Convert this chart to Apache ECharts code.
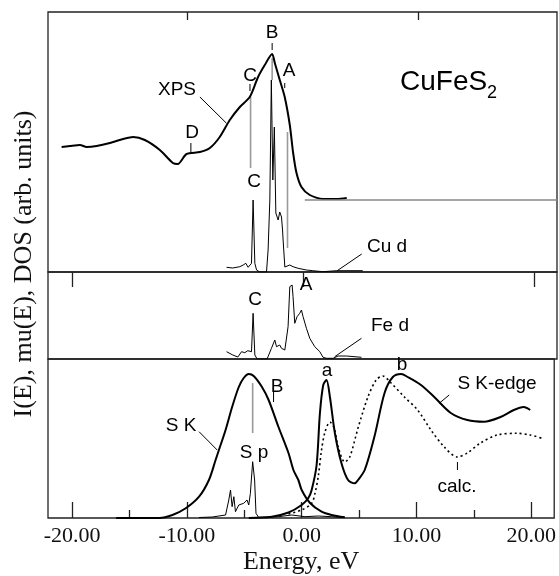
<!DOCTYPE html>
<html>
<head>
<meta charset="utf-8">
<script src="https://cdn.jsdelivr.net/npm/echarts@6/dist/echarts.min.js"></script>
<style>
  html, body { margin: 0; padding: 0; background: #fff; }
  #chart { width: 559px; height: 576px; }
</style>
</head>
<body>
<div id="chart"></div>
<script>
// energy in eV, intensity in arb. units (height above each panel's baseline)
const xps = [[-20.92,125],[-20.2,126],[-19.33,127],[-18.75,125],[-17.89,126],[-16.74,129],[-15.58,133],[-14.72,135],[-13.71,132],[-12.41,122],[-11.28,109],[-10.85,108],[-10.1,118],[-8.94,120],[-8.08,124],[-7.22,135],[-6.35,152],[-5.48,165],[-4.62,175],[-3.9,195],[-3.32,207],[-2.68,218],[-2.45,209],[-2.02,192],[-1.59,175],[-1.15,147],[-0.86,119],[-0.57,99],[-0.14,85],[0.58,77],[1.71,73],[2.92,73],[3.78,74]];
const cuD = [[-6.63,4.7],[-6.09,4],[-5.48,5.3],[-5.19,7],[-4.96,8.7],[-4.76,4.7],[-4.47,8.7],[-4.33,72],[-4.18,8.7],[-4.03,2],[-3.75,0],[-3.17,0],[-3.03,22],[-2.88,72],[-2.75,192],[-2.62,92],[-2.49,145],[-2.36,59],[-2.16,52],[-2.02,60],[-1.87,55],[-1.78,42],[-1.73,32],[-1.58,5],[-1.44,3.7],[-1.15,7],[-0.87,5.3],[-0.43,3.7],[0.29,2],[0.84,1.3],[1.71,0.3],[2.92,1.3],[5.17,1.3]];
const xpsBase = [[0.15,72],[22,72]];
const feD = [[-6.63,7.3],[-6.09,4],[-5.65,2],[-5.33,7.3],[-5.05,6.3],[-4.79,8.3],[-4.47,7.3],[-4.33,45.7],[-4.18,4],[-3.98,0],[-3.12,0],[-3.03,0.7],[-2.74,10.7],[-2.45,19],[-2.3,12.3],[-2.02,14],[-1.87,10.7],[-1.58,9],[-1.3,32.3],[-1.15,72.3],[-0.95,74],[-0.87,62.3],[-0.72,35.7],[-0.52,42.3],[-0.29,45.7],[-0.14,49],[0,42.3],[0.29,30.7],[0.58,20.7],[1.01,12.3],[1.45,7.3],[1.73,1.7],[2.03,0.7],[2.6,0.7],[3.03,3],[3.76,3],[5.06,1.7]];
const sK = [[-16.16,0],[-12.41,0],[-11.26,3],[-10.1,9.7],[-8.94,21.3],[-8.08,38],[-7.5,58],[-7.21,68],[-6.63,88],[-6.06,111],[-5.48,131],[-5.05,140],[-4.61,144],[-4.18,142],[-3.46,131],[-2.88,118],[-2.02,91],[-1.15,65],[-0.72,48],[-0.29,38],[0,28],[0.73,15],[1.73,6.3],[2.6,3],[3.76,0.7]];
const sKedge = [[-4.61,0],[-2.6,1.3],[-1.15,5.5],[0,13],[0.58,20],[0.87,28],[1.3,53],[1.59,105],[1.88,133],[2.16,138],[2.46,121],[2.89,85],[3.46,55],[4.04,38],[4.62,34.7],[4.91,38],[5.49,48],[6.35,82],[7.22,125],[7.94,141],[8.66,144],[9.24,141],[10.39,133],[11.55,121],[12.99,105],[14.43,98],[15.88,96.3],[17.32,101],[18.48,108],[19.34,111],[19.91,108]];
const calc = [[-1.15,4],[0,8],[0.87,14.7],[1.16,24.7],[1.45,42],[1.73,68],[2.03,86],[2.46,96],[2.83,90],[3.18,71],[3.76,56],[4.19,61],[4.91,90],[5.77,121],[6.49,138],[7.07,142],[7.79,135],[8.95,121],[10.1,108],[11.26,88],[12.42,71],[13.57,61],[14.43,65],[15.58,75],[17.03,83],[18.76,84.7],[19.91,83],[20.93,79.7]];
const sP = [[-8.94,0.5],[-7.79,1],[-6.63,3],[-6.35,18],[-6.2,28],[-6.06,11.3],[-5.91,21.3],[-5.77,6.3],[-5.48,13],[-5.05,14.7],[-4.76,18],[-4.61,13],[-4.47,24.7],[-4.27,56.3],[-4.1,38],[-3.98,4.7],[-3.75,0.7],[-2.02,1.3],[-0.87,3],[0.29,1.3],[1.45,2],[2.6,1.3],[3.61,0.5]];

// guide lines between spectra (gray) and label pointers (black)
const grayTop = [[[-4.55,175],[-4.55,104]],[[-1.35,140],[-1.35,24]],[[-2.68,214],[-2.68,192]]];
const grayBottom = [[[-4.27,135],[-4.27,85]]];
const pointTop = [[[-2.68,229],[-2.68,222]],[[-4.6,188],[-4.6,181]],[[-1.59,189],[-1.59,184]],[[-9.72,129],[-9.72,120]],[[-8.94,175],[-6.63,148.7]],[[2.92,1],[5.08,18]]];
const pointMid = [[[2.74,2.3],[5.06,20.7]]];
const pointBottom = [[[-2.45,126],[-2.45,116]],[[-8.94,86.3],[-7.36,68]],[[11.98,114.7],[12.85,123]],[[13.57,56],[13.57,48]]];

const majorTicksTop = [-20, 0, 20];
const minorTicksTop = [-10, 10];
const majorTicksBottom = [-20, -10, 0, 10, 20];
const minorTicksBottom = [-15, -5, 5, 15];

const chart = echarts.init(document.getElementById('chart'));
const sans = 'Liberation Sans';
const serif = 'Liberation Serif';

const grids = [
  { top: 12, height: 260 },
  { top: 272, height: 87 },
  { top: 359, height: 159 },
].map((g) => ({ ...g, left: 48, right: 2, show: true, borderColor: '#222', borderWidth: 1.3 }));

const hiddenX = (grid, pos) => ({
  type: 'value', gridIndex: grid, position: pos, min: -22.1, max: 22,
  axisLine: { show: false }, axisLabel: { show: false }, splitLine: { show: false }, axisTick: { show: false },
});

const tickAxis = (grid, pos, vals, len) => {
  const a = hiddenX(grid, pos);
  a.axisTick = { show: true, inside: true, length: len, customValues: vals, lineStyle: { color: '#222', width: 1.3 } };
  return a;
};

const bottomAxis = tickAxis(2, 'bottom', majorTicksBottom, 16);
bottomAxis.axisLabel = {
  show: true, customValues: majorTicksBottom, margin: 7,
  fontFamily: serif, fontSize: 22, color: '#111',
  formatter: (v) => v.toFixed(2),
};
bottomAxis.name = 'Energy, eV';
bottomAxis.nameLocation = 'middle';
bottomAxis.nameGap = 31;
bottomAxis.nameTextStyle = { fontFamily: serif, fontSize: 26, color: '#111' };

const xAxes = [
  tickAxis(0, 'top', majorTicksTop, 15),
  tickAxis(0, 'top', minorTicksTop, 8),
  hiddenX(1, 'bottom'),
  bottomAxis,
  tickAxis(2, 'bottom', minorTicksBottom, 8),
];

const yAxes = grids.map((g, i) => ({ type: 'value', gridIndex: i, min: 0, max: g.height, show: false }));

const curve = (xi, yi, data, width, extra) => Object.assign({
  type: 'line', xAxisIndex: xi, yAxisIndex: yi, data, showSymbol: false, symbol: 'none',
  lineStyle: { color: '#000', width }, silent: true, z: 3,
}, extra || {});

const segs = (xi, yi, list, color, width, z) => list.map((d) => curve(xi, yi, d, width, { lineStyle: { color, width }, z }));

const series = [
  curve(0, 0, xps, 2, { smooth: 0.25 }),
  curve(0, 0, cuD, 1),
  curve(0, 0, xpsBase, 1.5, { lineStyle: { color: '#888', width: 1.5 } }),
  curve(2, 1, feD, 1),
  curve(3, 2, sK, 2, { smooth: 0.3 }),
  curve(3, 2, sKedge, 2, { smooth: 0.3 }),
  curve(3, 2, calc, 1.6, { smooth: 0.3, lineStyle: { color: '#000', width: 1.6, type: [2, 3] } }),
  curve(3, 2, sP, 1),
  ...segs(0, 0, grayTop, '#9a9a9a', 1.6, 2),
  ...segs(3, 2, grayBottom, '#9a9a9a', 1.6, 2),
  ...segs(0, 0, pointTop, '#000', 1, 3),
  ...segs(2, 1, pointMid, '#000', 1, 3),
  ...segs(3, 2, pointBottom, '#000', 1, 3),
];

const txt = (text, x, y, size, extra) => ({
  type: 'text', x, y, silent: true, z: 10,
  style: Object.assign({ text, fontFamily: sans, fontSize: size || 19, fill: '#000', textAlign: 'center', textVerticalAlign: 'middle' }, extra || {}),
});

const graphic = [
  txt('XPS', 177, 90),
  txt('D', 192, 133),
  txt('C', 250, 76),
  txt('B', 272, 33),
  txt('A', 289, 71),
  txt('C', 254, 182),
  txt('CuFeS', 400, 82, 28, { textAlign: 'left' }),
  txt('2', 487, 93, 18, { textAlign: 'left' }),
  txt('Cu d', 387, 247),
  txt('C', 255, 300),
  txt('A', 306, 285),
  txt('Fe d', 390, 326),
  txt('S K', 181, 426),
  txt('S p', 254, 453),
  txt('B', 277, 387),
  txt('a', 327, 371),
  txt('b', 402, 365),
  txt('S K-edge', 497, 384),
  txt('calc.', 457, 487),
  Object.assign(txt('I(E), mu(E), DOS (arb. units)', 24, 264, 26, { fontFamily: serif, fill: '#111' }), { rotation: Math.PI / 2 }),
];

chart.setOption({
  animation: false,
  backgroundColor: '#fff',
  grid: grids,
  xAxis: xAxes,
  yAxis: yAxes,
  series,
  graphic,
});
</script>
</body>
</html>
